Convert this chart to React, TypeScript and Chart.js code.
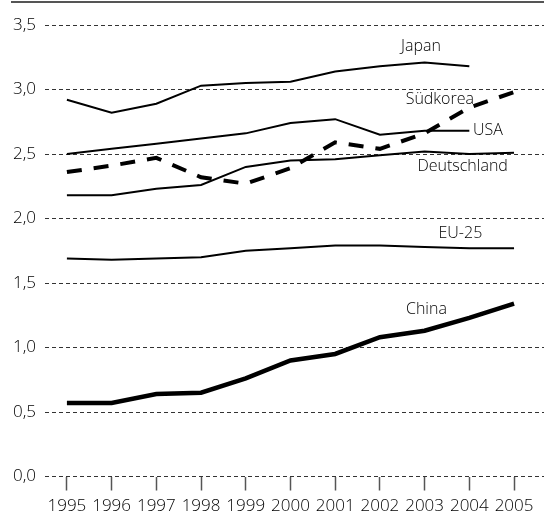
import React, { useEffect, useRef } from 'react';
import { Chart, registerables } from 'chart.js';

Chart.register(...registerables);

const years = [1995, 1996, 1997, 1998, 1999, 2000, 2001, 2002, 2003, 2004, 2005];
const japan = [2.92, 2.82, 2.89, 3.03, 3.05, 3.06, 3.14, 3.18, 3.21, 3.18, null];
const usa = [2.5, 2.54, 2.58, 2.62, 2.66, 2.74, 2.77, 2.65, 2.68, 2.68, null];
const deutschland = [2.18, 2.18, 2.23, 2.26, 2.4, 2.45, 2.46, 2.49, 2.52, 2.5, 2.51];
const suedkorea = [2.36, 2.41, 2.47, 2.32, 2.27, 2.39, 2.59, 2.54, 2.66, 2.86, 2.98];
const eu25 = [1.69, 1.68, 1.69, 1.7, 1.75, 1.77, 1.79, 1.79, 1.78, 1.77, 1.77];
const china = [0.57, 0.57, 0.64, 0.65, 0.76, 0.9, 0.95, 1.08, 1.13, 1.23, 1.34];
const yTicks = [0, 0.5, 1, 1.5, 2, 2.5, 3, 3.5];

const seriesNames = ['Japan', 'USA', 'Deutschland', 'Südkorea', 'EU-25', 'China'];
const seriesValues = [japan, usa, deutschland, suedkorea, eu25, china];

// label anchors in data units (year, value)
const labelYears = [2002.92, 2004.08, 2003.85, 2003.34, 2003.8, 2003.04];
const labelValues = [3.3, 2.646, 2.37, 2.89, 1.85, 1.26];
const labelAligns = ['center', 'left', 'center', 'center', 'center', 'center'];

const FONT = "'Open Sans', sans-serif";
const TEXT = '#000';

const styles = [
  { width: 2, dash: [] as number[] },
  { width: 2, dash: [] as number[] },
  { width: 2, dash: [] as number[] },
  { width: 4, dash: [15, 12] },
  { width: 2, dash: [] as number[] },
  { width: 4.5, dash: [] as number[] },
];

const labelPlugin = {
  id: 'seriesLabels',
  afterDatasetsDraw(chart: any) {
    const ctx = chart.ctx;
    const xs = chart.scales.x;
    const ys = chart.scales.y;
    ctx.save();
    ctx.fillStyle = TEXT;
    ctx.font = `300 16px ${FONT}`;
    ctx.textBaseline = 'alphabetic';
    seriesNames.forEach((name, i) => {
      ctx.textAlign = labelAligns[i];
      ctx.fillText(name, xs.getPixelForValue(labelYears[i]), ys.getPixelForValue(labelValues[i]));
    });
    ctx.restore();
  },
};

const topRulePlugin = {
  id: 'topRule',
  afterDraw(chart: any) {
    const ctx = chart.ctx;
    ctx.save();
    ctx.fillStyle = '#555';
    ctx.fillRect(11, 1, chart.width - 11, 2);
    ctx.restore();
  },
};

export default function App() {
  const ref = useRef<HTMLCanvasElement | null>(null);

  useEffect(() => {
    if (!ref.current) return;
    const chart = new Chart(ref.current, {
      type: 'line',
      data: {
        datasets: seriesNames.map((name, i) => ({
          label: name,
          data: years.map((yr, j) => ({ x: yr, y: seriesValues[i][j] })),
          borderColor: '#000',
          borderWidth: styles[i].width,
          borderDash: styles[i].dash,
          borderCapStyle: 'butt',
          borderJoinStyle: 'miter',
          pointRadius: 0,
          tension: 0,
          fill: false,
        })),
      },
      options: {
        animation: false,
        responsive: false,
        maintainAspectRatio: false,
        layout: { padding: { top: 25, left: 0, right: 0, bottom: 0 } },
        plugins: { legend: { display: false }, tooltip: { enabled: false } },
        scales: {
          x: {
            type: 'linear',
            min: 1994.51,
            max: 2005.67,
            afterBuildTicks: (s: any) => {
              s.ticks = years.map((v) => ({ value: v }));
            },
            afterFit: (s: any) => {
              s.height = 36.5;
            },
            grid: {
              drawOnChartArea: false,
              drawTicks: true,
              tickLength: 14,
              tickColor: '#555',
              tickWidth: 1.5,
            },
            border: { display: false },
            ticks: {
              padding: 5,
              color: TEXT,
              font: { family: FONT, size: 17, weight: '300' },
              maxRotation: 0,
              autoSkip: false,
              callback: (v: any) => String(v),
            },
          },
          y: {
            type: 'linear',
            min: 0,
            max: 3.5,
            afterBuildTicks: (s: any) => {
              s.ticks = yTicks.map((v) => ({ value: v }));
            },
            afterFit: (s: any) => {
              s.width = 45;
            },
            grid: { color: '#333', lineWidth: 1, drawTicks: false },
            border: { display: false, dash: [4, 3] },
            ticks: {
              padding: 9,
              color: TEXT,
              font: { family: FONT, size: 17, weight: '300' },
              callback: (v: any) => Number(v).toFixed(1).replace('.', ','),
            },
          },
        },
      },
      plugins: [labelPlugin, topRulePlugin],
    } as any);
    return () => chart.destroy();
  }, []);

  return (
    <div style={{ position: 'absolute', left: 0, top: 0, width: 544, height: 513 }}>
      <canvas ref={ref} width={544} height={513} style={{ display: 'block' }} />
    </div>
  );
}
